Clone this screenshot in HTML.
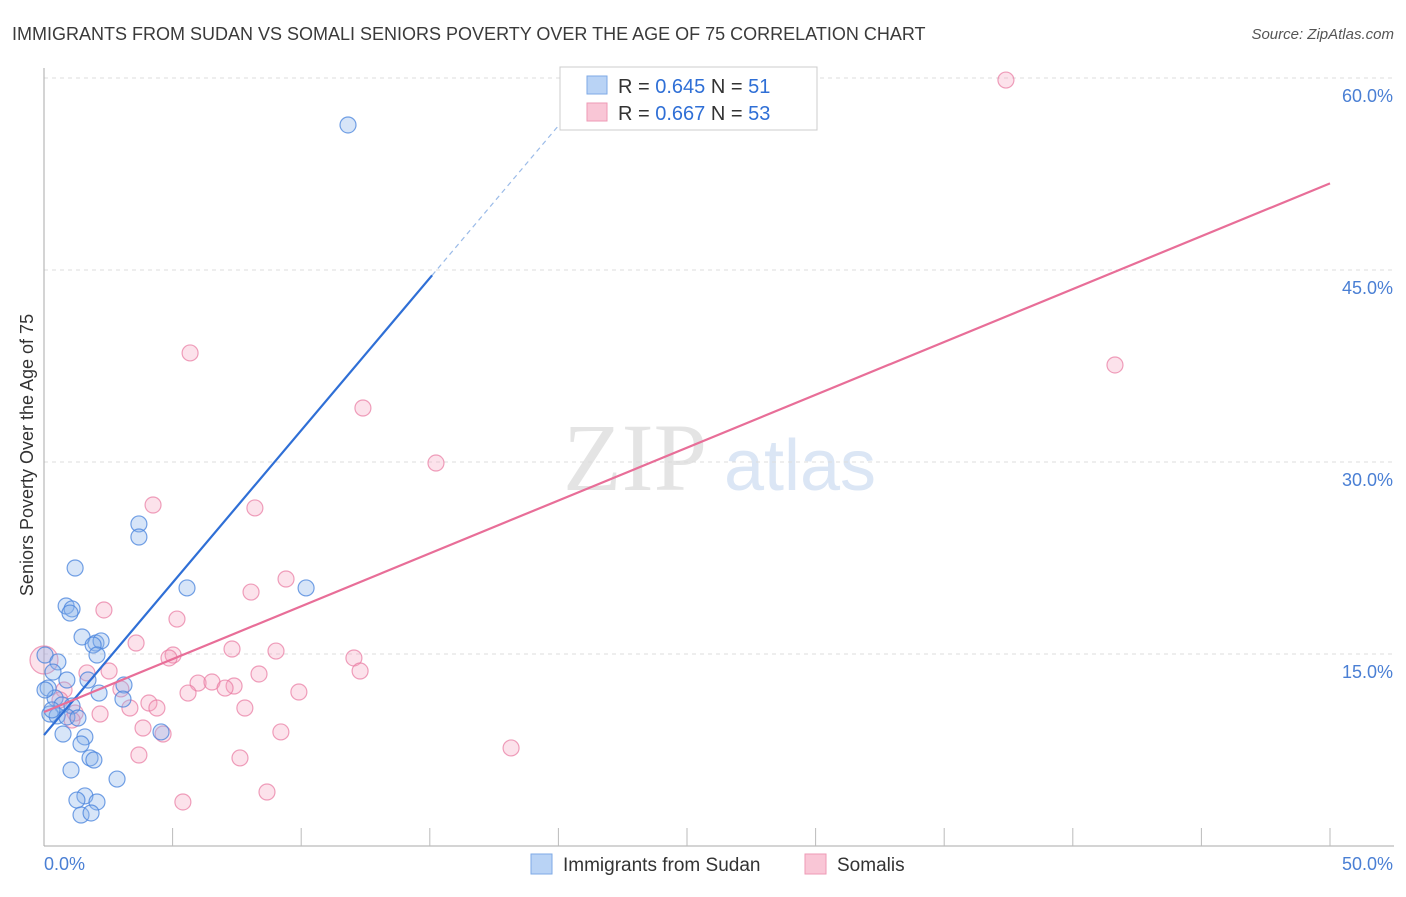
<!DOCTYPE html>
<html><head><meta charset="utf-8"><style>
body{margin:0;background:#fff;font-family:"Liberation Sans",sans-serif;}
</style></head><body>
<svg id="chart" width="1406" height="892" xmlns="http://www.w3.org/2000/svg" style="font-family:'Liberation Sans',sans-serif">
<text x="12" y="40" font-size="18" fill="#3a3a3a">IMMIGRANTS FROM SUDAN VS SOMALI SENIORS POVERTY OVER THE AGE OF 75 CORRELATION CHART</text>
<text x="1394" y="39" font-size="15" fill="#555" text-anchor="end" font-style="italic">Source: ZipAtlas.com</text>
<text x="635" y="490" font-size="96" fill="#e4e4e4" font-family="Liberation Serif" text-anchor="middle">ZIP</text>
<text x="800" y="490" font-size="72" fill="#dbe6f5" text-anchor="middle">atlas</text>
<text transform="translate(33,455) rotate(-90)" font-size="18" fill="#333" text-anchor="middle">Seniors Poverty Over the Age of 75</text>
<g id="grid"></g><g id="pts"></g><g id="trend"></g>
<g>
<rect x="560" y="67" width="257" height="63" fill="#fff" stroke="#ccc"/>
<rect x="587" y="76" width="20" height="18" fill="#b9d3f5" stroke="#7ea9e6"/>
<rect x="587" y="103" width="20" height="18" fill="#f9c6d6" stroke="#ee9ab5"/>
<text x="618" y="93" font-size="20" fill="#333">R = <tspan fill="#2f6fd6">0.645</tspan>   N = <tspan fill="#2f6fd6"> 51</tspan></text>
<text x="618" y="120" font-size="20" fill="#333">R = <tspan fill="#2f6fd6">0.667</tspan>   N = <tspan fill="#2f6fd6">53</tspan></text>
</g>
<g>
<rect x="531" y="854" width="21" height="20" fill="#b9d3f5" stroke="#7ea9e6"/>
<text x="563" y="871" font-size="19" fill="#333">Immigrants from Sudan</text>
<rect x="805" y="854" width="21" height="20" fill="#f9c6d6" stroke="#ee9ab5"/>
<text x="837" y="871" font-size="19" fill="#333">Somalis</text>
</g>
</svg>
<script>
const yTicks=[15,30,45,60];
const xTickLabels=["0.0%","50.0%"];
const sudanX=[11.82,3.69,3.69,1.21,5.56,10.19,0.86,1.09,1.01,1.48,2.02,2.22,1.91,2.06,0.04,0.54,1.71,3.11,0.89,0.16,2.14,3.07,0.43,0.7,1.09,0.23,0.51,0.89,1.32,0.74,1.59,1.44,4.55,1.79,1.94,1.05,2.84,1.59,1.28,2.06,1.44,1.83,0.35,0.04,0.31];
const sudanY=[56.33,25.16,24.14,21.72,20.16,20.16,18.75,18.52,18.2,16.33,15.86,16.02,15.7,14.92,14.92,14.38,12.97,12.58,12.97,12.34,11.95,11.48,11.56,11.02,10.94,10.31,10.16,10.08,10.0,8.75,8.52,7.97,8.91,6.88,6.72,5.94,5.23,3.91,3.59,3.44,2.42,2.58,13.59,12.19,10.63];
const somaliX=[37.4,41.64,5.68,12.4,15.24,4.24,8.2,9.41,8.05,2.33,5.17,3.58,5.02,4.86,7.31,9.02,12.05,12.29,2.53,1.67,8.36,5.99,6.53,7.39,7.04,2.99,5.6,9.91,4.08,4.39,3.34,7.81,2.18,1.21,3.85,9.21,4.63,3.69,7.62,18.16,8.67,5.4,0.78,0.62,1.09,0];
const somaliY=[59.84,37.58,38.52,34.22,29.92,26.64,26.41,20.86,19.84,18.44,17.73,15.86,14.92,14.69,15.39,15.23,14.69,13.67,13.67,13.52,13.44,12.73,12.81,12.5,12.34,12.27,11.95,12.03,11.17,10.78,10.78,10.78,10.31,10.39,9.22,8.91,8.75,7.11,6.88,7.66,4.22,3.44,12.19,11.41,9.84,14.53];
const sudanTrend=[8.67,2.38];
const somaliTrend=[10.47,0.826];
const NS="http://www.w3.org/2000/svg";
const X=v=>44+v/50*1286, Y=v=>846-v*12.8;
function mk(tag,at,parent){const e=document.createElementNS(NS,tag);for(const k in at)e.setAttribute(k,at[k]);parent.appendChild(e);return e;}
const grid=document.getElementById('grid');
yTicks.forEach(t=>{
 const l=mk('line',{x1:44,x2:1394,y1:Y(t),y2:Y(t),stroke:'#ddd','stroke-dasharray':'4,4'},grid);
 
 
 const tx=mk('text',{x:1393,y:Y(t)+24,'font-size':18,fill:'#4a7fd4','text-anchor':'end'},grid);tx.textContent=t.toFixed(1)+'%';
 
 
});
const ax=mk('line',{x1:44,x2:44,y1:68,y2:846,stroke:'#aaa'},grid);


const bx=mk('line',{x1:44,x2:1394,y1:846,y2:846,stroke:'#aaa'},grid);


for(let i=1;i<=10;i++){const t=mk('line',{x1:X(i*5),x2:X(i*5),y1:828,y2:846,stroke:'#bbb'},grid);
 
 }
xTickLabels.forEach((s,i)=>{const t=mk('text',{x:i?1393:44,y:870,'font-size':18,fill:'#4a7fd4','text-anchor':i?'end':'start'},grid);t.textContent=s;
 
 });
const pts=document.getElementById('pts');
somaliX.forEach((x,i)=>{const c=mk('circle',{cx:X(x),cy:Y(somaliY[i]),r:x===0?14:8,fill:'rgba(246,160,190,0.3)',stroke:'rgba(232,120,160,0.7)','stroke-width':1.2},pts);
 
 });
sudanX.forEach((x,i)=>{const c=mk('circle',{cx:X(x),cy:Y(sudanY[i]),r:8,fill:'rgba(140,180,235,0.35)',stroke:'rgba(70,130,220,0.75)','stroke-width':1.2},pts);
 
 });
const tr=document.getElementById('trend');
const f1=x=>sudanTrend[0]+sudanTrend[1]*x, f2=x=>somaliTrend[0]+somaliTrend[1]*x;
const l1=mk('line',{x1:X(0),y1:Y(f1(0)),x2:X(15.09),y2:Y(f1(15.09)),stroke:'#2f6fd6','stroke-width':2.2},tr);


const l1d=mk('line',{x1:X(15.09),y1:Y(f1(15.09)),x2:X(21.1),y2:Y(f1(21.1)),stroke:'#9bbbe8','stroke-width':1.2,'stroke-dasharray':'5,4'},tr);


const l2=mk('line',{x1:X(0),y1:Y(f2(0)),x2:X(50),y2:Y(f2(50)),stroke:'#e86e98','stroke-width':2.2},tr);


</script>
</body></html>
